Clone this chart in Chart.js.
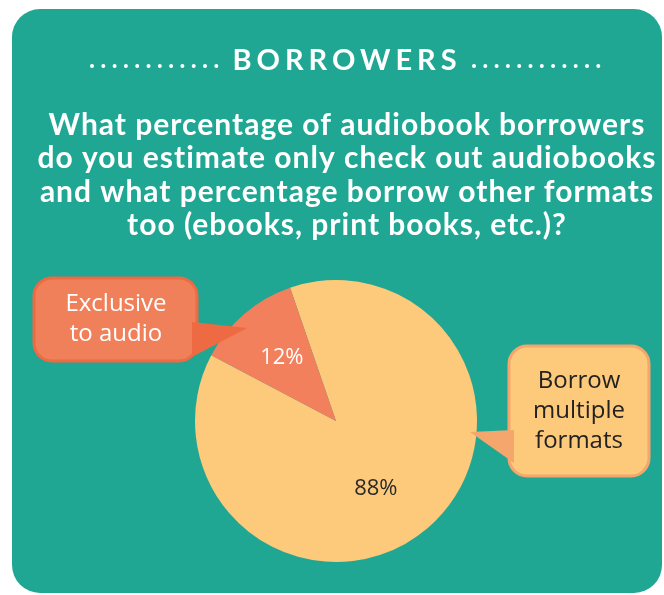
<!DOCTYPE html>
<html>
<head>
<meta charset="utf-8">
<script src="https://cdn.jsdelivr.net/npm/chart.js@4"></script>
<style>
  html, body { margin: 0; padding: 0; background: #fff; }
  #wrap { width: 664px; height: 595px; position: relative; }
</style>
</head>
<body>
<div id="wrap"><canvas id="chart"></canvas></div>
<script>
// data
var categories   = ['Borrow multiple formats', 'Exclusive to audio'];
var shares       = [88, 12];
var shareLabels  = ['88%', '12%'];
var calloutLines = [['Borrow', 'multiple', 'formats'], ['Exclusive', 'to audio']];
var heading      = 'BORROWERS';
var question     = [
	'What percentage of audiobook borrowers',
	'do you estimate only check out audiobooks',
	'and what percentage borrow other formats',
	'too (ebooks, print books, etc.)?'
];

var TEAL = '#1fa794';
var sliceColors = ['#fdc97a', '#f2805c'];

function roundRect(ctx, x, y, w, h, r) {
	ctx.beginPath();
	ctx.moveTo(x + r, y);
	ctx.arcTo(x + w, y, x + w, y + h, r);
	ctx.arcTo(x + w, y + h, x, y + h, r);
	ctx.arcTo(x, y + h, x, y, r);
	ctx.arcTo(x, y, x + w, y, r);
	ctx.closePath();
}

// teal card + heading + question, under the pie
var backdrop = {
	id: 'backdrop',
	beforeDraw: function(chart) {
		var ctx = chart.ctx;
		ctx.save();
		roundRect(ctx, 12, 9, 650, 584, 28);
		ctx.fillStyle = TEAL;
		ctx.fill();

		ctx.fillStyle = '#fff';
		ctx.textAlign = 'center';
		ctx.textBaseline = 'middle';
		ctx.font = 'bold 29px Lato';
		ctx.letterSpacing = '5px';
		ctx.fillText(heading, 347, 61);

		// dotted rules either side of the heading
		for (var i = 0; i < 12; i++) {
			ctx.beginPath();
			ctx.arc(92 + i * 11.3, 66, 2, 0, Math.PI * 2);
			ctx.fill();
			ctx.beginPath();
			ctx.arc(474 + i * 11.3, 66, 2, 0, Math.PI * 2);
			ctx.fill();
		}

		ctx.font = 'bold 30px Lato';
		ctx.letterSpacing = '1px';
		for (var j = 0; j < question.length; j++) {
			ctx.fillText(question[j], 347, 125 + j * 33.5);
		}
		ctx.restore();
	}
};

// percentage labels and speech-bubble callouts
var callouts = {
	id: 'callouts',
	afterDatasetsDraw: function(chart) {
		var ctx = chart.ctx;
		var arcs = chart.getDatasetMeta(0).data;
		ctx.save();
		ctx.textAlign = 'center';
		ctx.textBaseline = 'middle';
		ctx.font = '22px "Open Sans"';
		arcs.forEach(function(arc, i) {
			var mid = (arc.startAngle + arc.endAngle) / 2 + (i === 0 ? 0.18 : 0);
			var r = arc.outerRadius * (i === 0 ? 0.56 : 0.59);
			ctx.fillStyle = i === 0 ? '#2a2a2a' : '#fff';
			ctx.fillText(shareLabels[i], arc.x + Math.cos(mid) * r, arc.y + Math.sin(mid) * r);
		});

		// bubble for the small slice
		ctx.lineJoin = 'round';
		ctx.fillStyle = '#f0805a';
		ctx.strokeStyle = '#ee6a42';
		ctx.lineWidth = 3;
		roundRect(ctx, 34, 278, 163, 83, 18);
		ctx.fill();
		ctx.stroke();
		ctx.beginPath();
		ctx.moveTo(192, 322);
		ctx.lineTo(247, 328);
		ctx.lineTo(192, 357);
		ctx.closePath();
		ctx.fillStyle = '#ee6a42';
		ctx.fill();
		ctx.fillStyle = '#fff';
		ctx.font = '24px "Open Sans"';
		ctx.fillText(calloutLines[1][0], 116, 304);
		ctx.fillText(calloutLines[1][1], 116, 334);

		// bubble for the big slice
		ctx.fillStyle = '#fdc97a';
		ctx.strokeStyle = '#f4a66c';
		roundRect(ctx, 509, 346, 140, 130, 18);
		ctx.fill();
		ctx.stroke();
		ctx.beginPath();
		ctx.moveTo(514, 430);
		ctx.lineTo(470, 432);
		ctx.lineTo(514, 463);
		ctx.closePath();
		ctx.fillStyle = '#f4a66c';
		ctx.fill();
		ctx.fillStyle = '#222';
		for (var k = 0; k < calloutLines[0].length; k++) {
			ctx.fillText(calloutLines[0][k], 579, 381 + k * 30);
		}
		ctx.restore();
	}
};

var ctx = document.getElementById('chart').getContext('2d');
var chart = new Chart(ctx, {
	type: 'pie',
	data: {
		labels: categories,
		datasets: [{
			data: shares,
			backgroundColor: sliceColors,
			borderWidth: 0
		}]
	},
	options: {
		responsive: true,
		maintainAspectRatio: false,
		animation: false,
		rotation: -19,
		layout: { padding: { left: 195, right: 187, top: 280, bottom: 33 } },
		plugins: {
			legend: { display: false },
			tooltip: { enabled: false }
		}
	},
	plugins: [backdrop, callouts]
});
</script>
</body>
</html>
